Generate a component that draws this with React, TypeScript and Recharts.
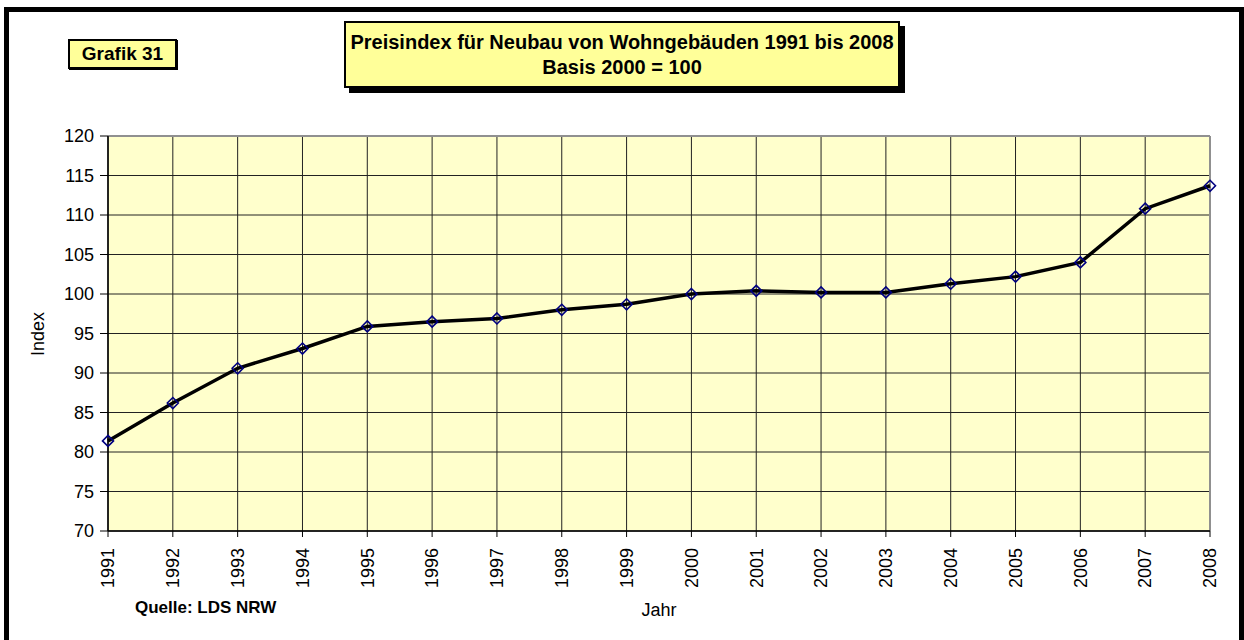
import React from 'react';
import { LineChart, Line, XAxis, YAxis, CartesianGrid, ReferenceLine } from 'recharts';

const years = ['1991','1992','1993','1994','1995','1996','1997','1998','1999','2000','2001','2002','2003','2004','2005','2006','2007','2008'];
const indexValues = [81.4, 86.2, 90.6, 93.1, 95.9, 96.5, 96.9, 98.0, 98.7, 100.0, 100.4, 100.2, 100.2, 101.3, 102.2, 104.0, 110.8, 113.7];
const yTicks = [70, 75, 80, 85, 90, 95, 100, 105, 110, 115, 120];

const data = years.map((y, i) => ({ year: y, value: indexValues[i] }));

const FONT = '"Liberation Sans", Arial, sans-serif';

const Diamond = (props: any) => {
  const { cx, cy } = props;
  if (cx == null || cy == null) return null;
  const r = 5.5;
  return (
    <polygon
      points={`${cx},${cy - r} ${cx + r},${cy} ${cx},${cy + r} ${cx - r},${cy}`}
      fill="none"
      stroke="#000080"
      strokeWidth={1.6}
    />
  );
};

const XTick = (props: any) => {
  const { x, y, payload } = props;
  const ty = y + 9;
  return (
    <text
      x={x}
      y={ty}
      transform={`rotate(-90, ${x}, ${ty})`}
      textAnchor="end"
      dy="0.35em"
      fontSize={18}
      fontFamily={FONT}
      fill="#000"
    >
      {payload.value}
    </text>
  );
};

export default function App() {
  return (
    <div style={{ position: 'absolute', left: 0, top: 0, width: 1244, height: 640, overflow: 'hidden', background: '#fff', fontFamily: FONT }}>
      <div style={{ position: 'absolute', left: 4, top: 7, width: 1240, height: 700, border: '5px solid #000', boxSizing: 'border-box' }} />
      <div style={{ position: 'absolute', left: 0, top: 0 }}>
        <LineChart width={1244} height={640} data={data} margin={{ top: 136, right: 34, left: 48, bottom: 29 }}>
          <CartesianGrid stroke="#222" strokeWidth={1} fill="#FFFFCC" fillOpacity={1} />
          <XAxis
            dataKey="year"
            height={80}
            tick={<XTick />}
            tickSize={6}
            tickLine={{ stroke: '#000' }}
            axisLine={{ stroke: '#000', strokeWidth: 1.5 }}
            interval={0}
          />
          <YAxis
            width={60}
            domain={[70, 120]}
            ticks={yTicks}
            interval={0}
            tickSize={8}
            tickMargin={6}
            tick={{ fontSize: 18, fill: '#000', fontFamily: FONT }}
            tickLine={{ stroke: '#000' }}
            axisLine={{ stroke: '#000', strokeWidth: 1.5 }}
          />
          <ReferenceLine y={120} stroke="#909090" strokeWidth={2} ifOverflow="extendDomain" />
          <ReferenceLine x="2008" stroke="#909090" strokeWidth={2} />
          <Line
            type="linear"
            dataKey="value"
            stroke="#000"
            strokeWidth={3.5}
            dot={<Diamond />}
            activeDot={false}
            isAnimationActive={false}
          />
        </LineChart>
      </div>
      <div style={{ position: 'absolute', left: 68, top: 39, width: 109, height: 30, boxSizing: 'border-box', border: '2px solid #000', background: '#FFFF99', boxShadow: '1px 1px 0 #000', display: 'flex', alignItems: 'center', justifyContent: 'center', fontWeight: 'bold', fontSize: 19 }}>
        Grafik 31
      </div>
      <div style={{ position: 'absolute', left: 344, top: 21, width: 556, height: 67, boxSizing: 'border-box', border: '2px solid #000', background: '#FFFF99', boxShadow: '5px 5px 0 #000', display: 'flex', flexDirection: 'column', alignItems: 'center', justifyContent: 'center', fontWeight: 'bold', fontSize: 20, lineHeight: '25px' }}>
        <div>Preisindex für Neubau von Wohngebäuden 1991 bis 2008</div>
        <div>Basis 2000 = 100</div>
      </div>
      <div style={{ position: 'absolute', left: 38, top: 334, transform: 'translate(-50%, -50%) rotate(-90deg)', fontSize: 18, whiteSpace: 'nowrap' }}>
        Index
      </div>
      <div style={{ position: 'absolute', left: 659, top: 610, transform: 'translate(-50%, -50%)', fontSize: 18, whiteSpace: 'nowrap' }}>
        Jahr
      </div>
      <div style={{ position: 'absolute', left: 135, top: 598, fontSize: 17, fontWeight: 'bold', whiteSpace: 'nowrap' }}>
        Quelle: LDS NRW
      </div>
    </div>
  );
}
